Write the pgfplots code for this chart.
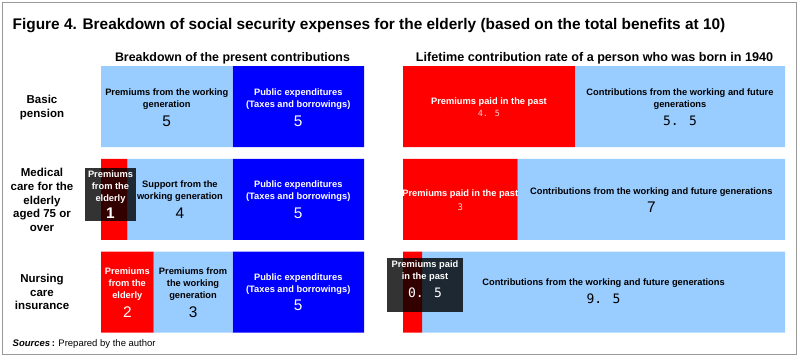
\documentclass[border=0pt]{standalone}
\usepackage{fontspec}
\setmainfont{Liberation Sans}
\newfontfamily\monof{DejaVu Sans Mono}
\usepackage{pgfplots}
\pgfplotsset{compat=1.18}
\definecolor{lb}{HTML}{99CCFF}
\definecolor{bb}{HTML}{0000FF}
\definecolor{rr}{HTML}{FF0000}
\definecolor{pk}{HTML}{FFD0D0}
\tikzset{
  lab/.style={font=\bfseries\fontsize{9.3}{12}\selectfont, align=center, inner sep=0pt},
  num/.style={font=\fontsize{15.4}{16}\selectfont, inner sep=0pt},
  mnum/.style={font=\monof\fontsize{13}{14}\selectfont, inner sep=0pt},
  rowlab/.style={font=\bfseries\fontsize{11.5}{13.7}\selectfont, align=center, inner sep=0pt},
  ovl/.style={fill=black, fill opacity=0.8, draw=none, inner sep=0pt},
}
\begin{document}
\begin{tikzpicture}[x=1pt,y=1pt]
\useasboundingbox (0,0) rectangle (800,359);
\draw[color=black!40, line width=1pt] (2.5,4.5) rectangle (796,356);
\node[anchor=west, inner sep=0pt, font=\bfseries\fontsize{15.4}{18}\selectfont] at (12.5,333.5) {Figure 4. Breakdown of social security expenses for the elderly (based on the total benefits at 10)};
\node[inner sep=0pt, font=\bfseries\fontsize{12.4}{14}\selectfont] at (232.5,300.5) {Breakdown of the present contributions};
\node[inner sep=0pt, font=\bfseries\fontsize{12.6}{14}\selectfont] at (594.5,300.5) {Lifetime contribution rate of a person who was born in 1940};
\node[anchor=west, inner sep=0pt, font=\fontsize{9.5}{11}\selectfont] at (12.5,14.5) {\textbf{\textit{Sources}\,:} Prepared by the author};

\begin{axis}[at={(101pt,20.625pt)}, anchor=south west, scale only axis,
  width=263pt, height=278.25pt, xmin=0, xmax=10, ymin=-0.5, ymax=2.5,
  y dir=reverse, xbar stacked, bar width=81pt, axis lines=none, clip=false,
  xtick=\empty, ytick=\empty]
\addplot[fill=rr, draw=none] coordinates {(0,0) (1,1) (2,2)};
\addplot[fill=lb, draw=none] coordinates {(5,0) (4,1) (3,2)};
\addplot[fill=bb, draw=none] coordinates {(5,0) (5,1) (5,2)};
\coordinate (R0) at (axis cs:-2.243,0);
\coordinate (R1) at (axis cs:-2.243,1);
\coordinate (R2) at (axis cs:-2.243,2);
\coordinate (L0a) at (axis cs:2.5,0);
\coordinate (L0b) at (axis cs:7.5,0);
\coordinate (L1o) at (axis cs:0.361,1);
\coordinate (L1a) at (axis cs:3,1);
\coordinate (L1b) at (axis cs:7.5,1);
\coordinate (L2r) at (axis cs:1,2);
\coordinate (L2a) at (axis cs:3.5,2);
\coordinate (L2b) at (axis cs:7.5,2);
\end{axis}

\begin{axis}[at={(403pt,20.625pt)}, anchor=south west, scale only axis,
  width=382pt, height=278.25pt, xmin=0, xmax=10, ymin=-0.5, ymax=2.5,
  y dir=reverse, xbar stacked, bar width=81pt, axis lines=none, clip=false,
  xtick=\empty, ytick=\empty]
\addplot[fill=rr, draw=none] coordinates {(4.5,0) (3,1) (0.5,2)};
\addplot[fill=lb, draw=none] coordinates {(5.5,0) (7,1) (9.5,2)};
\coordinate (P0r) at (axis cs:2.25,0);
\coordinate (P0a) at (axis cs:7.25,0);
\coordinate (P1r) at (axis cs:1.5,1);
\coordinate (P1a) at (axis cs:6.5,1);
\coordinate (P2o) at (axis cs:0.576,2);
\coordinate (P2a) at (axis cs:5.25,2);
\end{axis}

% row labels
\node[rowlab, yshift=-0.8pt] at (R0) {Basic\\pension};
\node[rowlab, yshift=-0.75pt] at (R1) {Medical\\care for the\\elderly\\aged 75 or\\over};
\node[rowlab] at (R2) {Nursing\\care\\insurance};
% left row 0
\node[lab, yshift=7.5pt] at (L0a) {Premiums from the working\\generation};
\node[num, yshift=-14.5pt] at (L0a) {5};
\node[lab, white, yshift=7.5pt] at (L0b) {Public expenditures\\(Taxes and borrowings)};
\node[num, white, yshift=-14.5pt] at (L0b) {5};
% left row 1
\node[lab, yshift=8.25pt] at (L1a) {Support from the\\working generation};
\node[num, yshift=-13.75pt] at (L1a) {4};
\node[lab, white, yshift=8.25pt] at (L1b) {Public expenditures\\(Taxes and borrowings)};
\node[num, white, yshift=-13.75pt] at (L1b) {5};
\node[ovl, minimum width=51pt, minimum height=53pt, yshift=4.75pt] at (L1o) {};
\node[lab, white, yshift=12.25pt] at (L1o) {Premiums\\from the\\elderly};
\node[num, white, font=\bfseries\fontsize{15.4}{16}\selectfont, yshift=-13.75pt] at (L1o) {1};
% left row 2
\node[lab, white, yshift=8pt] at (L2r) {Premiums\\from the\\elderly};
\node[num, white, yshift=-20pt] at (L2r) {2};
\node[lab, yshift=8pt] at (L2a) {Premiums from\\the working\\generation};
\node[num, yshift=-20pt] at (L2a) {3};
\node[lab, white, yshift=8pt] at (L2b) {Public expenditures\\(Taxes and borrowings)};
\node[num, white, yshift=-13pt] at (L2b) {5};
% right row 0
\node[lab, white, yshift=4.5pt] at (P0r) {Premiums paid in the past};
\node[inner sep=0pt, pk, font=\monof\fontsize{8.5}{9}\selectfont, yshift=-6.5pt] at (P0r) {4. 5};
\node[lab, yshift=7.5pt] at (P0a) {Contributions from the working and future\\generations};
\node[mnum, yshift=-14.5pt] at (P0a) {5. 5};
% right row 1
\node[lab, white, yshift=5.25pt] at (P1r) {Premiums paid in the past};
\node[inner sep=0pt, pk, font=\monof\fontsize{9}{9}\selectfont, yshift=-7.75pt] at (P1r) {3};
\node[lab, yshift=7.25pt] at (P1a) {Contributions from the working and future generations};
\node[num, yshift=-7.75pt] at (P1a) {7};
% right row 2
\node[lab, yshift=9pt] at (P2a) {Contributions from the working and future generations};
\node[mnum, yshift=-7pt] at (P2a) {9. 5};
\node[ovl, minimum width=76pt, minimum height=54pt, yshift=7pt] at (P2o) {};
\node[lab, white, yshift=21pt] at (P2o) {Premiums paid\\in the past};
\node[mnum, white, yshift=-1pt] at (P2o) {0. 5};
\end{tikzpicture}
\end{document}
